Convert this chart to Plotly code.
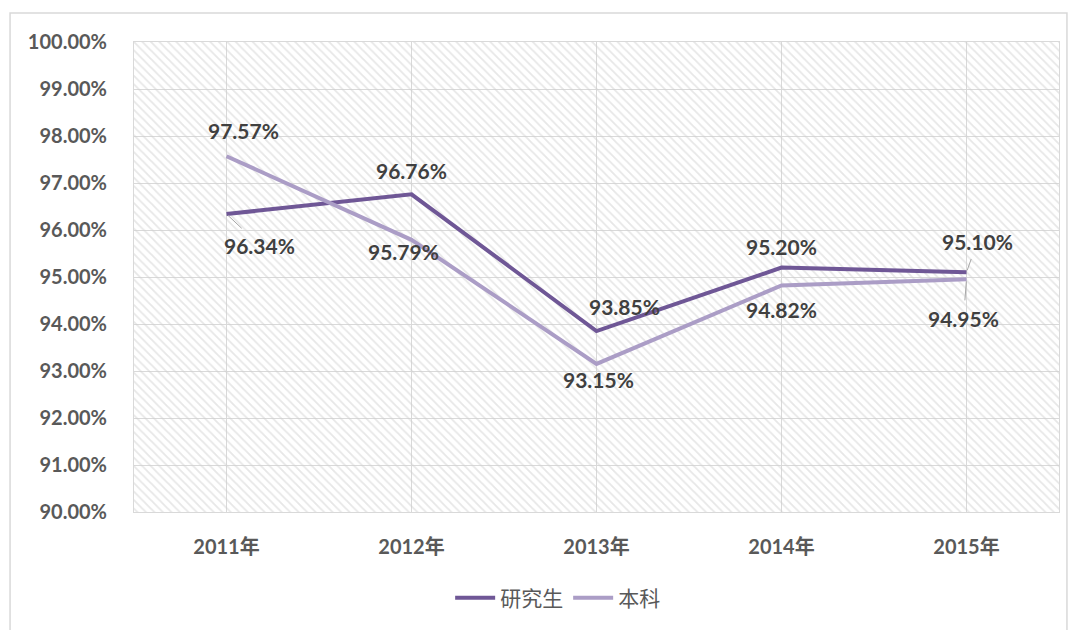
import plotly.graph_objects as go

years = ["2011年", "2012年", "2013年", "2014年", "2015年"]
graduate = [96.34, 96.76, 93.85, 95.20, 95.10]
undergrad = [97.57, 95.79, 93.15, 94.82, 94.95]

FONT = "Lato, 'Noto Sans CJK SC', sans-serif"
DARK = "#6f5796"
LIGHT = "#ab9dc6"
LABEL = "#404040"

# label offsets in pixels (dx, dy up), and whether a leader line is drawn
grad_off = [(33, -31, True), (0, 24, False), (28, 25, False), (0, 21, False), (11, 31, True)]
under_off = [(17, 26, False), (-8, -12, False), (2, -16, False), (0, -24, False), (-3, -39, True)]

fig = go.Figure()

# hatched plot background
fig.add_trace(go.Bar(
    x=years, y=[10] * len(years), base=90, width=1,
    marker=dict(color="rgba(0,0,0,0)", line=dict(width=0),
                pattern=dict(shape="\\", fgcolor="#cfcfcf", size=6, solidity=0.3)),
    hoverinfo="skip", showlegend=False,
))

fig.add_trace(go.Scatter(x=years, y=graduate, mode="lines", name="研究生",
                         line=dict(color=DARK, width=4)))
fig.add_trace(go.Scatter(x=years, y=undergrad, mode="lines", name="本科",
                         line=dict(color=LIGHT, width=4)))

for vals, offs in ((graduate, grad_off), (undergrad, under_off)):
    for yr, v, (dx, dy, leader) in zip(years, vals, offs):
        common = dict(x=yr, y=v, text=f"{v:.2f}%",
                      font=dict(family=FONT, size=21, color=LABEL, weight="bold"))
        if leader:
            fig.add_annotation(**common, showarrow=True, ax=dx, ay=-dy,
                               arrowhead=0, arrowwidth=1, arrowcolor="#a6a6a6",
                               standoff=2, startstandoff=4)
        else:
            fig.add_annotation(**common, showarrow=False, xshift=dx, yshift=dy)

# outer chart border
fig.add_shape(type="rect", xref="paper", yref="paper",
              x0=-0.134, x1=1.0086, y0=-0.3, y1=1.0617,
              line=dict(color="#d9d9d9", width=1.5), layer="below")

# the page body adds an 8px offset, so margins are shifted to compensate
fig.update_layout(
    width=1086, height=630,
    margin=dict(l=126, r=35, t=34, b=126),
    paper_bgcolor="white", plot_bgcolor="white",
    font=dict(family=FONT, color="#595959"),
    bargap=0,
    showlegend=True,
    legend=dict(orientation="h", x=0.458, xanchor="center", y=-0.183, yanchor="middle",
                font=dict(size=21, color="#595959"), itemwidth=40),
    xaxis=dict(type="category", range=[-0.5, 4.5], showgrid=True, gridcolor="#d9d9d9",
               gridwidth=1, showline=True, linecolor="#d9d9d9", mirror=True,
               ticks="", ticklabelstandoff=17, automargin=False,
               tickfont=dict(size=20, color="#595959", weight="bold")),
    yaxis=dict(range=[90, 100], dtick=1, tickformat=".2f", ticksuffix="%",
               showgrid=True, gridcolor="#d9d9d9", gridwidth=1,
               showline=True, linecolor="#d9d9d9", mirror=True, zeroline=False,
               ticks="", ticklabelstandoff=22, automargin=False,
               tickfont=dict(size=20, color="#595959", weight="bold")),
)

fig.write_html("out.html")
